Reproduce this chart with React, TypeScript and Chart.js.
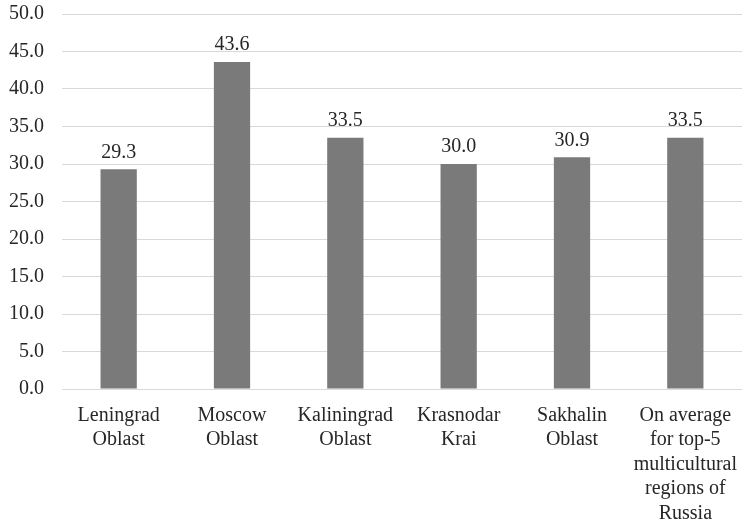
import React, { useEffect, useRef } from "react";
import { Chart, registerables } from "chart.js";

Chart.register(...registerables);

const categories: string[][] = [
  ["Leningrad", "Oblast"],
  ["Moscow", "Oblast"],
  ["Kaliningrad", "Oblast"],
  ["Krasnodar", "Krai"],
  ["Sakhalin", "Oblast"],
  ["On average", "for top-5", "multicultural", "regions of", "Russia"],
];
const values: number[] = [29.3, 43.6, 33.5, 30.0, 30.9, 33.5];

const FONT = '"Liberation Serif", "Times New Roman", Times, serif';
const TEXT = "#262626";
const FS = 20;

const labelPlugin = {
  id: "barLabels",
  afterDatasetsDraw(chart: any) {
    const ctx = chart.ctx;
    const meta = chart.getDatasetMeta(0);
    ctx.save();
    ctx.font = `${FS}px ${FONT}`;
    ctx.fillStyle = TEXT;
    ctx.textAlign = "center";
    ctx.textBaseline = "middle";
    meta.data.forEach((el: any, i: number) => {
      ctx.fillText(values[i].toFixed(1), el.x, el.y - 17);
    });
    ctx.restore();
  },
};

export default function App() {
  const ref = useRef<HTMLCanvasElement>(null);
  useEffect(() => {
    let chart: Chart | null = null;
    let cancelled = false;
    const make = () => {
      if (cancelled || !ref.current) return;
      chart = new Chart(ref.current, {
        type: "bar",
        data: {
          labels: categories,
          datasets: [
            {
              data: values,
              backgroundColor: "#7a7a7a",
              barPercentage: 0.64,
              categoryPercentage: 0.5,
            },
          ],
        },
        options: {
          animation: false,
          responsive: false,
          maintainAspectRatio: false,
          layout: { padding: { top: 0, right: 0, left: 0, bottom: 0 } },
          plugins: { legend: { display: false }, tooltip: { enabled: false } },
          scales: {
            x: {
              grid: { display: false },
              border: { display: true, color: "#d9d9d9", width: 1 },
              afterFit: (s: any) => {
                s.height = 136;
                s.paddingLeft = 0;
                s.paddingRight = 0;
              },
              ticks: {
                color: TEXT,
                font: { family: FONT, size: FS, lineHeight: 1.23 },
                maxRotation: 0,
                autoSkip: false,
                padding: 6,
              },
            },
            y: {
              min: 0,
              max: 50,
              grid: { color: "#d9d9d9", drawTicks: false },
              border: { display: false },
              afterFit: (s: any) => {
                s.width = 62;
                s.paddingTop = 14;
                s.paddingBottom = 0;
              },
              ticks: {
                stepSize: 5,
                color: TEXT,
                font: { family: FONT, size: FS },
                padding: 18,
                callback: (v: any) => Number(v).toFixed(1),
              },
            },
          },
        },
        plugins: [labelPlugin],
      });
    };
    const fonts: any = (document as any).fonts;
    if (fonts && fonts.load) {
      fonts.load(`${FS}px ${FONT}`).then(make, make);
    } else {
      make();
    }
    return () => {
      cancelled = true;
      if (chart) chart.destroy();
    };
  }, []);
  return (
    <div style={{ position: "fixed", left: 0, top: 0, width: 742, height: 525, background: "#fff" }}>
      <canvas ref={ref} width={742} height={525} />
    </div>
  );
}
